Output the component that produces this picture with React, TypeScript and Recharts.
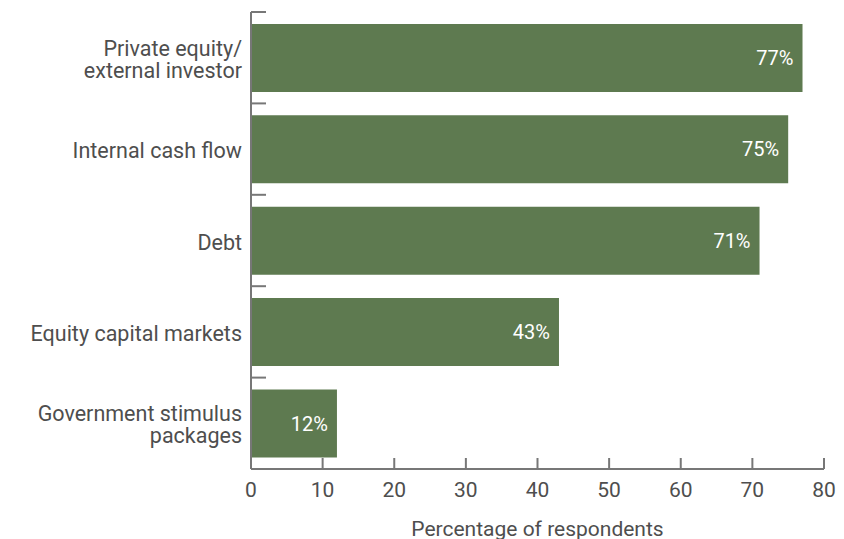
import React from 'react';
import { BarChart, Bar, XAxis, YAxis, LabelList } from 'recharts';

const categories = [
  'Private equity/\nexternal investor',
  'Internal cash flow',
  'Debt',
  'Equity capital markets',
  'Government stimulus\npackages',
];
const values = [77, 75, 71, 43, 12];
const xTicks = [0, 10, 20, 30, 40, 50, 60, 70, 80];

const data = categories.map((c, i) => ({ category: c, value: values[i] }));

const FONT = 'Roboto, "Noto Sans", sans-serif';
const TEXT = '#4e4e4e';
const AXIS = '#777777';
const BAR = '#5e7a50';

const CategoryTick = (props: any) => {
  const { x, y, payload } = props;
  const lines = String(payload.value).split('\n');
  const lh = 22;
  const tx = x - 9;
  const first = y + 9 - ((lines.length - 1) * lh) / 2;
  const boundary = y - (payload.offset || 0);
  return (
    <g>
      <line x1={x} x2={x + 15} y1={boundary} y2={boundary} stroke={AXIS} strokeWidth={2} />
      <text x={tx} y={first} textAnchor="end" fill={TEXT} fontFamily={FONT} fontSize={21.5}>
        {lines.map((l, i) => (
          <tspan key={i} x={tx} y={first + i * lh}>
            {l}
          </tspan>
        ))}
      </text>
    </g>
  );
};

const ValueTick = (props: any) => {
  const { x, y, payload } = props;
  return (
    <g>
      <line x1={x} x2={x} y1={y} y2={y - 11} stroke={AXIS} strokeWidth={2} />
      <text x={x} y={y + 28} textAnchor="middle" fill={TEXT} fontFamily={FONT} fontSize={21}>
        {payload.value}
      </text>
    </g>
  );
};

export default function App() {
  return (
    <div style={{ position: 'absolute', left: 0, top: 0 }}>
      <BarChart
        width={844}
        height={539}
        data={data}
        layout="vertical"
        margin={{ top: 12, right: 20, bottom: 0, left: 0 }}
        barCategoryGap="13%"
      >
        <XAxis
          type="number"
          domain={[0, 80]}
          ticks={xTicks}
          height={70}
          tickLine={false}
          tickSize={0}
          tickMargin={0}
          axisLine={{ stroke: AXIS, strokeWidth: 2 }}
          tick={<ValueTick />}
          interval={0}
          label={{
            value: 'Percentage of respondents',
            position: 'insideBottom',
            offset: 3,
            fill: TEXT,
            fontFamily: FONT,
            fontSize: 21,
          }}
        />
        <YAxis
          type="category"
          dataKey="category"
          width={251}
          tickLine={false}
          tickSize={0}
          tickMargin={0}
          axisLine={{ stroke: AXIS, strokeWidth: 2 }}
          tick={<CategoryTick />}
          interval={0}
        />
        <Bar dataKey="value" fill={BAR} isAnimationActive={false}>
          <LabelList
            dataKey="value"
            position="insideRight"
            offset={9}
            formatter={(v: any) => `${v}%`}
            fill="#ffffff"
            fontFamily={FONT}
            fontSize={20}
          />
        </Bar>
      </BarChart>
    </div>
  );
}
